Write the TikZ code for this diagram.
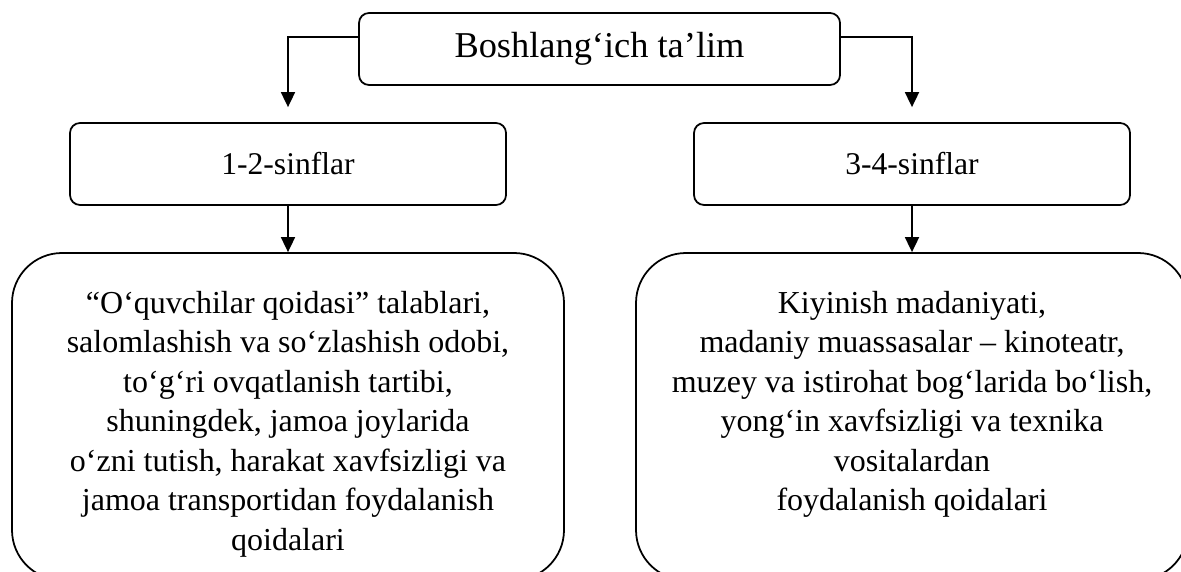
\documentclass[tikz,border=0pt]{standalone}
\usepackage{fontspec}
\setmainfont{Liberation Serif}
\usetikzlibrary{arrows.meta}

\begin{document}
\begin{tikzpicture}[
		box/.style = {draw, line width=1pt, rounded corners=0.2cm, inner sep=0pt},
		bigbox/.style = {draw, line width=1pt, rounded corners=1cm, inner sep=0pt,
			minimum width=11.04cm, minimum height=6.54cm, font=\fontsize{18.2}{22.5}\selectfont},
		arr/.style = {line width=1pt, -{Triangle[width=0.28cm, length=0.3cm]}}
		]
		\useasboundingbox (0,0) rectangle (23.62,-11.44);
		\clip (0,0) rectangle (23.62,-11.44);
		
		\node [box, minimum width=9.62cm, minimum height=1.44cm, font=\fontsize{20.7}{24}\selectfont] (top) at (11.99,-0.98) {Boshlang‘ich ta’lim};
		
		\node [box, minimum width=8.72cm, minimum height=1.64cm, font=\fontsize{18}{22}\selectfont] (cls12) at (5.76,-3.28) {1-2-sinflar};
		\node [box, minimum width=8.72cm, minimum height=1.64cm, font=\fontsize{18}{22}\selectfont] (cls34) at (18.24,-3.28) {3-4-sinflar};
		
		\node [bigbox] (big12) at (5.76,-8.33) {\parbox[c][6.54cm][t]{11cm}{\centering\vspace*{0.76cm}%
				“O‘quvchilar qoidasi” talablari,\\
				salomlashish va so‘zlashish odobi,\\
				to‘g‘ri ovqatlanish tartibi,\\
				shuningdek, jamoa joylarida\\
				o‘zni tutish, harakat xavfsizligi va\\
				jamoa transportidan foydalanish\\
				qoidalari}};
		\node [bigbox] (big34) at (18.24,-8.33) {\parbox[c][6.54cm][t]{11cm}{\centering\vspace*{0.76cm}%
				Kiyinish madaniyati,\\
				madaniy muassasalar – kinoteatr,\\
				muzey va istirohat bog‘larida bo‘lish,\\
				yong‘in xavfsizligi va texnika\\
				vositalardan\\
				foydalanish qoidalari}};
		
		\draw [arr] ([yshift=0.24cm]top.west) -| ([yshift=0.3cm]cls12.north);
		\draw [arr] ([yshift=0.24cm]top.east) -| ([yshift=0.3cm]cls34.north);
		\draw [arr] (cls12.south) -- (big12.north);
		\draw [arr] (cls34.south) -- (big34.north);
		
		\end{tikzpicture}
\end{document}
